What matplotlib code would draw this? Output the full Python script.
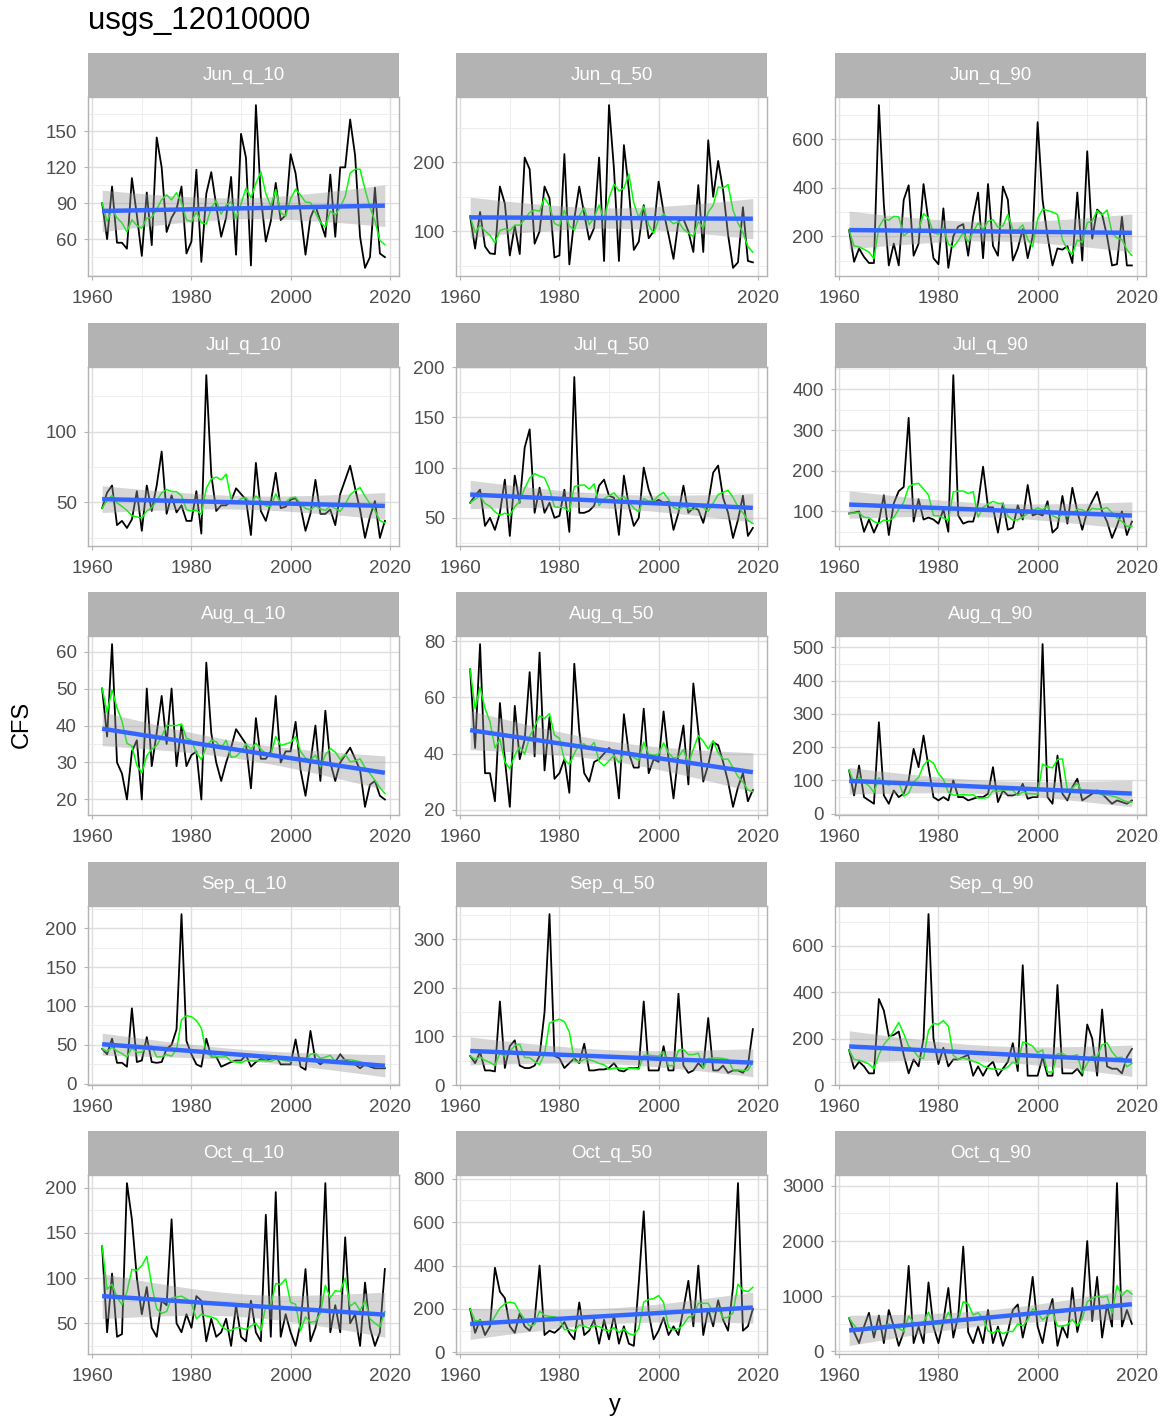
import numpy as np
import pandas as pd
import matplotlib
matplotlib.use('Agg')
import matplotlib.pyplot as plt
from matplotlib.ticker import AutoMinorLocator

plt.rcParams['font.family'] = ['Liberation Sans', 'DejaVu Sans']

# flow quantiles per year, usgs_12010000
years = np.arange(1962, 2020)

jun_q_10 = [90, 60, 104, 57, 57, 52, 111, 80, 46, 99, 55, 145, 120, 66, 78, 85, 104, 48, 58, 118,
            41, 98, 116, 88, 62, 78, 112, 47, 148, 128, 38, 172, 95, 58, 75, 107, 76, 80, 131, 115,
            82, 47, 78, 88, 75, 62, 114, 62, 120, 120, 160, 130, 62, 36, 45, 103, 48, 45]
jun_q_50 = [122, 75, 128, 78, 68, 67, 165, 140, 65, 108, 67, 207, 190, 82, 100, 165, 148, 62, 65, 212,
            52, 118, 165, 125, 88, 105, 207, 57, 283, 190, 57, 225, 160, 73, 85, 138, 90, 100, 172, 128,
            95, 60, 115, 118, 100, 70, 167, 70, 232, 150, 202, 160, 95, 47, 55, 135, 57, 55]
jun_q_90 = [225, 95, 150, 115, 90, 90, 740, 330, 80, 170, 80, 350, 410, 120, 170, 415, 260, 110, 85, 315,
            70, 200, 240, 250, 120, 280, 380, 110, 415, 160, 120, 405, 350, 100, 150, 230, 110, 200, 670, 350,
            200, 80, 150, 145, 160, 90, 380, 100, 550, 190, 310, 290, 200, 80, 85, 280, 80, 80]
jul_q_10 = [46, 57, 62, 34, 37, 32, 38, 58, 30, 62, 44, 62, 86, 42, 55, 43, 48, 37, 37, 58,
            28, 140, 70, 44, 48, 48, 51, 60, 56, 52, 27, 78, 44, 37, 50, 71, 46, 47, 52, 53,
            47, 30, 42, 66, 42, 42, 45, 34, 56, 66, 76, 60, 45, 25, 40, 51, 25, 37]
jul_q_50 = [65, 72, 78, 42, 50, 38, 55, 88, 32, 92, 65, 120, 138, 55, 80, 55, 65, 50, 52, 78,
            36, 190, 55, 55, 57, 62, 82, 88, 72, 70, 33, 92, 62, 42, 50, 100, 78, 65, 68, 65,
            66, 38, 55, 82, 55, 60, 58, 45, 65, 95, 102, 70, 55, 30, 48, 72, 32, 40]
jul_q_90 = [95, 97, 100, 50, 80, 48, 75, 140, 42, 120, 150, 160, 330, 75, 130, 80, 85, 80, 70, 105,
            50, 435, 90, 70, 75, 75, 120, 210, 110, 110, 48, 120, 55, 60, 115, 80, 165, 90, 95, 90,
            125, 48, 60, 138, 70, 158, 100, 55, 100, 125, 148, 100, 75, 35, 65, 100, 42, 75]
aug_q_10 = [50, 37, 62, 30, 27, 20, 33, 36, 20, 50, 29, 38, 48, 35, 50, 29, 40, 29, 32, 33,
            20, 57, 38, 30, 25, 30, 34, 39, 37, 35, 23, 42, 31, 31, 33, 48, 30, 33, 33, 41,
            28, 21, 30, 40, 25, 44, 30, 25, 30, 32, 34, 31, 28, 18, 24, 25, 21, 20]
aug_q_50 = [70, 42, 79, 33, 33, 23, 58, 38, 21, 57, 38, 45, 69, 39, 76, 34, 53, 31, 33, 38,
            26, 72, 48, 33, 30, 37, 38, 40, 42, 40, 24, 54, 40, 35, 35, 56, 33, 38, 37, 55,
            38, 24, 40, 50, 29, 65, 48, 30, 36, 44, 43, 37, 30, 21, 28, 33, 23, 27]
aug_q_90 = [130, 55, 145, 50, 40, 30, 275, 55, 30, 70, 50, 60, 100, 195, 140, 235, 140, 50, 40, 50,
            40, 100, 50, 50, 40, 45, 50, 50, 60, 140, 35, 70, 55, 55, 60, 90, 45, 50, 50, 510,
            50, 30, 175, 60, 40, 80, 105, 40, 50, 60, 70, 60, 45, 30, 40, 35, 30, 40]
sep_q_10 = [45, 38, 58, 27, 27, 22, 97, 28, 30, 60, 28, 27, 28, 45, 50, 70, 218, 55, 38, 25,
            22, 58, 35, 35, 22, 25, 28, 30, 30, 37, 22, 28, 32, 30, 32, 36, 25, 25, 25, 57,
            22, 18, 68, 30, 25, 30, 30, 28, 38, 30, 28, 25, 20, 25, 22, 20, 20, 20]
sep_q_50 = [60, 45, 68, 30, 30, 28, 172, 35, 80, 92, 40, 35, 35, 40, 60, 150, 352, 60, 55, 35,
            45, 55, 45, 85, 30, 30, 32, 32, 35, 45, 30, 28, 35, 35, 35, 172, 30, 30, 30, 80,
            30, 30, 188, 40, 25, 30, 45, 35, 138, 30, 30, 40, 25, 30, 30, 25, 40, 115]
sep_q_90 = [150, 70, 100, 80, 50, 50, 370, 320, 210, 215, 230, 130, 50, 110, 80, 200, 735, 200, 90, 160,
            80, 110, 110, 120, 130, 40, 80, 40, 80, 100, 40, 70, 100, 180, 60, 515, 40, 40, 40, 120,
            40, 40, 430, 50, 50, 50, 70, 40, 260, 200, 40, 325, 80, 70, 70, 50, 120, 155]
oct_q_10 = [135, 40, 105, 35, 38, 205, 165, 100, 60, 90, 45, 35, 75, 70, 165, 50, 40, 60, 45, 80,
            75, 30, 55, 35, 40, 55, 25, 70, 35, 30, 75, 40, 30, 170, 35, 195, 35, 60, 40, 25,
            50, 110, 30, 45, 70, 205, 40, 70, 40, 145, 50, 60, 25, 95, 45, 25, 40, 110]
oct_q_50 = [200, 90, 150, 80, 120, 390, 280, 250, 120, 90, 180, 120, 100, 150, 400, 80, 100, 90, 110, 140,
            90, 60, 230, 80, 100, 150, 40, 150, 60, 170, 40, 120, 40, 30, 320, 650, 180, 60, 100, 160,
            80, 120, 80, 200, 330, 120, 400, 80, 200, 120, 240, 150, 100, 300, 780, 100, 120, 200]
oct_q_90 = [600, 350, 150, 450, 700, 250, 650, 150, 750, 450, 100, 350, 1550, 150, 450, 150, 1250, 450, 150, 550,
            1150, 250, 650, 1900, 350, 150, 450, 150, 750, 150, 450, 100, 350, 750, 850, 250, 650, 1350, 450, 150,
            650, 950, 100, 450, 250, 1150, 350, 750, 2000, 550, 1350, 250, 850, 450, 3050, 450, 750, 500]

panel_names = ["Jun_q_10", "Jun_q_50", "Jun_q_90",
               "Jul_q_10", "Jul_q_50", "Jul_q_90",
               "Aug_q_10", "Aug_q_50", "Aug_q_90",
               "Sep_q_10", "Sep_q_50", "Sep_q_90",
               "Oct_q_10", "Oct_q_50", "Oct_q_90"]
panel_values = [jun_q_10, jun_q_50, jun_q_90, jul_q_10, jul_q_50, jul_q_90,
                aug_q_10, aug_q_50, aug_q_90, sep_q_10, sep_q_50, sep_q_90,
                oct_q_10, oct_q_50, oct_q_90]
panel_yticks = [[60, 90, 120, 150], [100, 200], [200, 400, 600],
                [50, 100], [50, 100, 150, 200], [100, 200, 300, 400],
                [20, 30, 40, 50, 60], [20, 40, 60, 80], [0, 100, 200, 300, 400, 500],
                [0, 50, 100, 150, 200], [0, 100, 200, 300], [0, 200, 400, 600],
                [50, 100, 150, 200], [0, 200, 400, 600, 800], [0, 1000, 2000, 3000]]
xticks = [1960, 1980, 2000, 2020]

W, H = 1165, 1422
fig = plt.figure(figsize=(W / 100, H / 100), dpi=100)

col_left = [88, 456, 835]
row_top = [97, 367, 636, 906, 1175]
pw, ph, sh = 311, 179, 44

grey70 = '#B3B3B3'
grid = '#DEDEDE'
t975 = 2.003  # t quantile, 56 df


def lm_band(x, y):
    slope, icpt = np.polyfit(x, y, 1)
    fit = icpt + slope * x
    n = len(x)
    s = np.sqrt(np.sum((y - fit) ** 2) / (n - 2))
    se = s * np.sqrt(1 / n + (x - x.mean()) ** 2 / np.sum((x - x.mean()) ** 2))
    return fit, fit - t975 * se, fit + t975 * se


for i, (name, vals, yt) in enumerate(zip(panel_names, panel_values, panel_yticks)):
    r, c = divmod(i, 3)
    x0, top = col_left[c], row_top[r]
    ax = fig.add_axes([x0 / W, 1 - (top + ph) / H, pw / W, ph / H])
    y = np.array(vals, dtype=float)
    x = years.astype(float)
    roll = pd.Series(y).rolling(5, min_periods=1).mean()
    fit, lo, hi = lm_band(x, y)

    ax.plot(x, y, color='black', lw=1.3, zorder=3)
    ax.plot(x, roll, color='#00FF00', lw=1.1, zorder=4)
    ax.fill_between(x, lo, hi, color='#999999', alpha=0.4, lw=0, zorder=5)
    ax.plot(x, fit, color='#3366FF', lw=3.2, zorder=6, solid_capstyle='butt')

    ymin = min(y.min(), lo.min())
    ymax = max(y.max(), hi.max())
    pad = (ymax - ymin) * 0.05
    ax.set_ylim(ymin - pad, ymax + pad)
    ax.set_xlim(1962 - 57 * 0.05, 2019 + 57 * 0.05)
    ax.set_xticks(xticks)
    ax.set_yticks(yt)
    ax.xaxis.set_minor_locator(AutoMinorLocator(2))
    ax.yaxis.set_minor_locator(AutoMinorLocator(2))
    ax.grid(which='major', color=grid, lw=1.0, zorder=0)
    ax.grid(which='minor', color='#EBEBEB', lw=0.6, zorder=0)
    ax.set_axisbelow(True)
    for sp in ax.spines.values():
        sp.set_color(grey70)
        sp.set_linewidth(1.0)
    ax.tick_params(which='major', length=3, width=0.8, color=grey70,
                   labelsize=13.5, labelcolor='#4D4D4D')
    ax.tick_params(axis='x', which='major', pad=7)
    ax.tick_params(axis='y', which='major', pad=5)
    ax.tick_params(which='minor', length=0)

    sax = fig.add_axes([x0 / W, 1 - top / H, pw / W, sh / H])
    sax.set_facecolor(grey70)
    sax.set_xticks([])
    sax.set_yticks([])
    for sp in sax.spines.values():
        sp.set_visible(False)
    sax.text(0.5, 0.5, name, color='white', fontsize=13.5,
             ha='center', va='center', transform=sax.transAxes)

fig.text(88 / W, 1 - 21 / H, "usgs_12010000", fontsize=22.5, ha='left', va='center', color='black')
fig.text(22 / W, 1 - 724 / H, "CFS", fontsize=17, rotation=90, ha='center', va='center')
fig.text(615 / W, 1 - 1405 / H, "y", fontsize=17, ha='center', va='center')

fig.savefig('out.png', dpi=100)
